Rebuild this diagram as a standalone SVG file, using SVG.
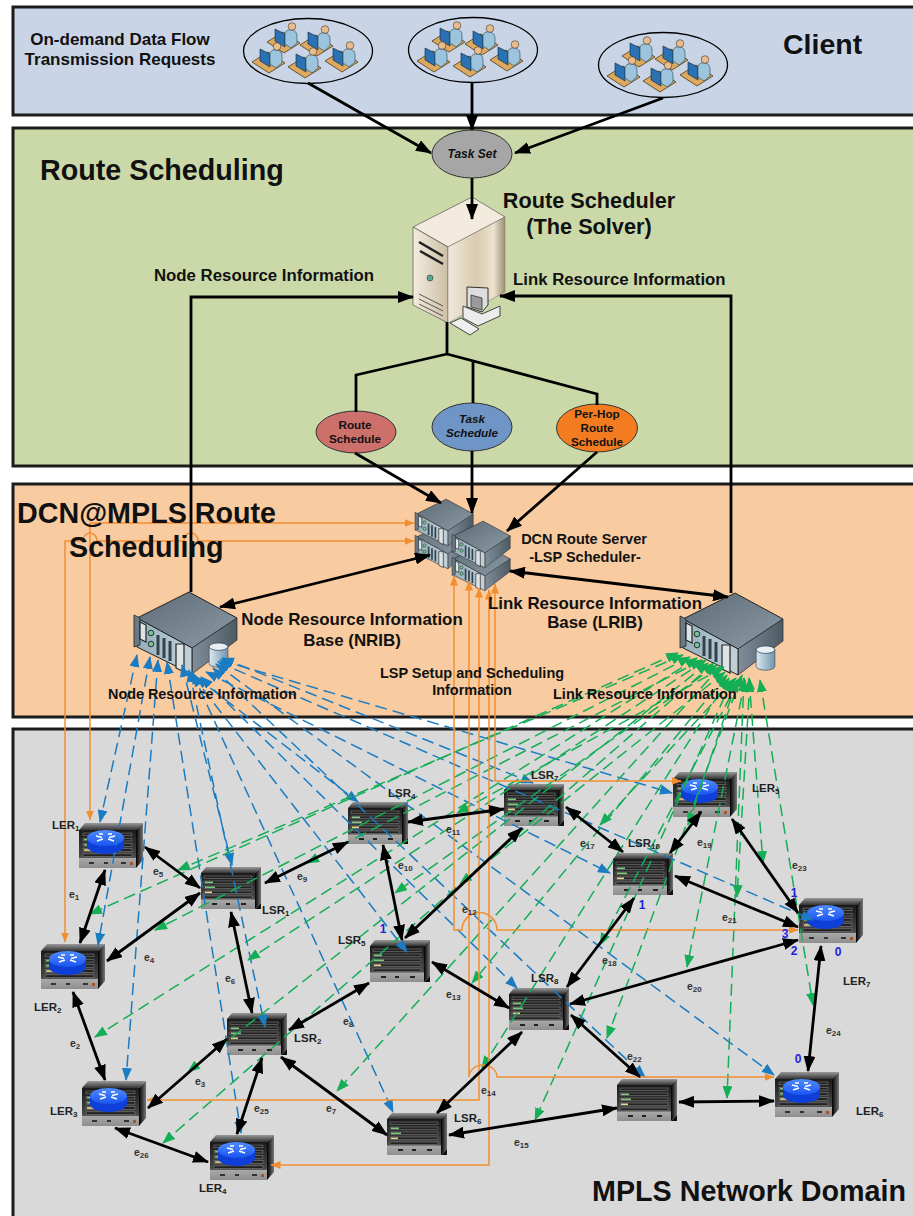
<svg xmlns="http://www.w3.org/2000/svg" width="913" height="1216" viewBox="0 0 913 1216">
<style>
text{font-family:"Liberation Sans",Arial,sans-serif;font-weight:bold;fill:#111}
.panel{stroke:#1c1c1c;stroke-width:3}
.k{fill:none;stroke:#000;stroke-width:2.8;marker-end:url(#ak)}
.kk{fill:none;stroke:#000;stroke-width:2.8;marker-start:url(#ak);marker-end:url(#ak)}
.kn{fill:none;stroke:#000;stroke-width:2.8}
.b{fill:none;stroke:#1b7cc2;stroke-width:1.5;stroke-dasharray:12 6;marker-start:url(#ab);marker-end:url(#ab)}
.g{fill:none;stroke:#14ae57;stroke-width:1.5;stroke-dasharray:12 6;marker-start:url(#ag);marker-end:url(#ag)}
.oo{fill:none;stroke:#f28e32;stroke-width:1.5;marker-start:url(#ao);marker-end:url(#ao)}
.lab{font-size:11.5px;fill:#222}
.e{font-size:10.5px;fill:#333}
.num{font-size:12px;fill:#2222dd}
.sub{font-size:8px}
.ov{stroke:#333;stroke-width:1}
.it{font-style:italic}
</style>
<defs>
<marker id="ak" viewBox="0 0 16 12" refX="15" refY="6" markerWidth="16" markerHeight="12" markerUnits="userSpaceOnUse" orient="auto-start-reverse"><path d="M0,0L16,6L0,12z" fill="#000"/></marker>
<marker id="ab" viewBox="0 0 13 10" refX="12" refY="5" markerWidth="13" markerHeight="10" markerUnits="userSpaceOnUse" orient="auto-start-reverse"><path d="M0,0L13,5L0,10z" fill="#1b7cc2"/></marker>
<marker id="ag" viewBox="0 0 13 10" refX="12" refY="5" markerWidth="13" markerHeight="10" markerUnits="userSpaceOnUse" orient="auto-start-reverse"><path d="M0,0L13,5L0,10z" fill="#14ae57"/></marker>
<marker id="ao" viewBox="0 0 10 8" refX="9.5" refY="4" markerWidth="10" markerHeight="8" markerUnits="userSpaceOnUse" orient="auto-start-reverse"><path d="M0,0L10,4L0,8z" fill="#f28e32"/></marker>
<linearGradient id="gfront" x1="0" y1="0" x2="0" y2="1"><stop offset="0" stop-color="#1a1a1a"/><stop offset=".72" stop-color="#4a4a4a"/><stop offset=".75" stop-color="#a8a8a8"/><stop offset="1" stop-color="#8e8e8e"/></linearGradient>
<linearGradient id="gtop" x1="0" y1="0" x2="0" y2="1"><stop offset="0" stop-color="#9a9a9a"/><stop offset="1" stop-color="#333"/></linearGradient>
<linearGradient id="gside" x1="0" y1="0" x2="1" y2="0"><stop offset="0" stop-color="#000"/><stop offset="1" stop-color="#777"/></linearGradient>
<linearGradient id="grouter" x1="0" y1="0" x2="0" y2="1"><stop offset="0" stop-color="#4f8cff"/><stop offset="1" stop-color="#1a55f0"/></linearGradient>
<linearGradient id="gsrvtop" x1="0" y1="0" x2="1" y2="1"><stop offset="0" stop-color="#5c6b76"/><stop offset="1" stop-color="#8c9ba6"/></linearGradient>
<linearGradient id="gsrvside" x1="0" y1="0" x2="1" y2="0"><stop offset="0" stop-color="#7f8e99"/><stop offset="1" stop-color="#4c5a64"/></linearGradient>
<linearGradient id="gsrvfront" x1="0" y1="0" x2="1" y2="0"><stop offset="0" stop-color="#93aebb"/><stop offset="1" stop-color="#c4d2d9"/></linearGradient>
<linearGradient id="gtower" x1="0" y1="0" x2="1" y2="0"><stop offset="0" stop-color="#f0e8da"/><stop offset=".5" stop-color="#d9cbb0"/><stop offset=".8" stop-color="#ece2cf"/><stop offset="1" stop-color="#9c8f70"/></linearGradient>
<linearGradient id="gtower2" x1="0" y1="0" x2="1" y2="0"><stop offset="0" stop-color="#f3ecdf"/><stop offset="1" stop-color="#cdbfa5"/></linearGradient>
<linearGradient id="gcyl" x1="0" y1="0" x2="1" y2="0"><stop offset="0" stop-color="#dfe9ee"/><stop offset="1" stop-color="#6f95ae"/></linearGradient>
<symbol id="rows" viewBox="0 0 54 24" preserveAspectRatio="none" overflow="visible">
<g fill="#222" stroke="#8a8a8a" stroke-width=".5"><rect x="3" y="1" width="48" height="2.6"/><rect x="3" y="6" width="48" height="2.6"/><rect x="3" y="11" width="48" height="2.6"/><rect x="3" y="16" width="48" height="2.6"/><rect x="3" y="21" width="48" height="2.6"/></g>
<g fill="#7fc77f"><rect x="4" y="6.5" width="8" height="1.6"/><rect x="4" y="11.5" width="10" height="1.6"/></g>
<g fill="#e8d48a"><rect x="4" y="16.5" width="7" height="1.6"/></g>
</symbol>
<symbol id="ler" viewBox="0 0 64 45" overflow="visible">
<path d="M0,7L6,0H64L57,7z" fill="url(#gtop)"/>
<path d="M57,7L64,0V37L57,45z" fill="url(#gside)"/>
<rect y="7" width="57" height="38" fill="url(#gfront)"/>
<use href="#rows" x="1" y="9" width="55" height="25"/>
<g fill="#333"><rect x="10" y="39" width="5" height="2"/><rect x="25" y="39" width="4" height="2"/><rect x="42" y="39" width="5" height="2"/></g>
<rect x="51" y="39" width="3" height="3" fill="#a8532a"/>
<path d="M8,15v8a18.5,8 0 0 0 37,0v-8z" fill="#0e3fd8"/>
<ellipse cx="26.5" cy="15" rx="18.500" ry="8" fill="url(#grouter)"/>
<path d="M17,13l6,1.5M36,13l-6,1.500M18,18l6,-2M35,18l-6,-2M20,11h4M29,11h4" stroke="#fff" stroke-width="1.5" fill="none"/>
</symbol>
<symbol id="lsr" viewBox="0 0 60 42" overflow="visible">
<path d="M0,6L5,0H60L54,6z" fill="url(#gtop)"/>
<path d="M54,6L60,0V36L54,42z" fill="url(#gside)"/>
<path d="M60,36V42H54z" fill="#111"/>
<rect y="6" width="54" height="36" fill="url(#gfront)"/>
<use href="#rows" x="0" y="8" width="54" height="24"/>
<g fill="#222"><rect x="11" y="36" width="5" height="2"/><rect x="25" y="36" width="4" height="2"/><rect x="40" y="36" width="5" height="2"/></g>
</symbol>
<symbol id="srv" viewBox="0 0 106 88" preserveAspectRatio="none" overflow="visible">
<path d="M3,28L55,2L103,28L58,58z" fill="url(#gsrvtop)" stroke="#222" stroke-width="1"/>
<path d="M58,58L103,28V50L58,84z" fill="url(#gsrvside)" stroke="#333" stroke-width=".8"/>
<path d="M3,28L58,58V84L3,57z" fill="url(#gsrvfront)" stroke="#222" stroke-width="1"/>
<path d="M0,25L6,28V55L0,57z" fill="#6a7a84" stroke="#222" stroke-width=".8"/>
<path d="M42,54L50,54V82L42,78z" fill="#dde4e8" stroke="#222" stroke-width="1.2"/>
<path d="M6,32L12,35V52L6,49z" fill="#dde4e8" stroke="#222" stroke-width="1.2"/>
<circle cx="17" cy="43" r="2.8" fill="#7ac18f" stroke="#233"/><circle cx="17" cy="54" r="2.8" fill="#7ac18f" stroke="#233"/>
<path d="M24,45v20M30,48v20M36,51v20" stroke="#34424c" stroke-width="3" fill="none"/>
</symbol>
<symbol id="person" viewBox="0 0 33 31" overflow="visible">
<path d="M0,20L16,10L33,21L17,31z" fill="#dca95f" stroke="#4b3a1a" stroke-width=".8"/>
<path d="M8,7L18,12V25L8,19z" fill="#2a72b4" stroke="#123" stroke-width=".6"/>
<path d="M18,11q2,-4 7,-3q5,1 5,6v7l-6,5l-6,-4z" fill="#9cc4dc" stroke="#245" stroke-width=".6"/>
<circle cx="25" cy="4.500" r="3.800" fill="#e7bd90" stroke="#432" stroke-width=".6"/>
</symbol>
<symbol id="people" viewBox="0 0 130 66" overflow="visible">
<ellipse cx="65" cy="33" rx="64.5" ry="32.5" fill="none" stroke="#000" stroke-width="1.3"/>
<use href="#person" x="24" y="4" width="33" height="31"/><use href="#person" x="57" y="7" width="33" height="31"/><use href="#person" x="9" y="24" width="33" height="31"/><use href="#person" x="45" y="29" width="33" height="31"/><use href="#person" x="82" y="23" width="33" height="31"/>
</symbol>
<symbol id="db" viewBox="0 0 22 30" overflow="visible">
<path d="M1,5V23A10,4 0 0 0 21,23V5z" fill="url(#gcyl)" stroke="#456" stroke-width=".8"/>
<ellipse cx="11" cy="5" rx="10" ry="4" fill="#e8f0f4" stroke="#345" stroke-width=".8"/>
</symbol>
</defs>

<g id="panels">
<rect class="panel" x="13" y="7" width="905" height="108" fill="#c9d5e6"/>
<rect class="panel" x="13" y="128" width="905" height="338" fill="#cbd9a9"/>
<rect class="panel" x="13" y="484" width="905" height="233" fill="#f8cba0"/>
<rect class="panel" x="13" y="729" width="905" height="492" fill="#d9d9d9"/>
</g>

<g id="client-group-1"><use href="#people" x="243" y="18" width="130" height="66"/></g>
<g id="client-group-2"><use href="#people" x="408" y="17" width="130" height="66"/></g>
<g id="client-group-3"><use href="#people" x="598" y="32" width="130" height="66"/></g>

<g id="task-set"><ellipse class="ov" cx="472" cy="154" rx="40" ry="24" fill="#a6a6a6"/></g>

<g id="route-scheduler">
<path d="M472,197L505,217L448,247L413,227z" fill="#f2ebdd" stroke="#555" stroke-width=".7"/>
<path d="M413,227L448,247V323L413,305z" fill="url(#gtower2)" stroke="#555" stroke-width=".7"/>
<path d="M448,247L505,217V292L448,323z" fill="url(#gtower)" stroke="#777" stroke-width=".5"/>
<path d="M419,242L443,256M420,251L443,264" stroke="#222" stroke-width="2.5" fill="none"/>
<circle cx="430" cy="278" r="3" fill="#5aa98e" stroke="#333" stroke-width=".6"/>
<path d="M419,294L443,306M419,299L443,311M419,304L443,316" stroke="#555" stroke-width="1" fill="none"/>
<path d="M467,287L488,288V305L482,312L467,307z" fill="#ddd" stroke="#333"/>
<path d="M471,295L482,298V310L471,307z" fill="#9a9a9a" stroke="#222" stroke-width=".7"/>
<path d="M463,306L482,314L500,306V316L478,326L463,318z" fill="#ececec" stroke="#444"/>
<path d="M450,323L461,318L479,329L470,335z" fill="#eee" stroke="#444"/>
</g>

<g id="route-schedule"><ellipse class="ov" cx="356" cy="432" rx="40" ry="21" fill="#cd6f6a"/></g>
<g id="task-schedule"><ellipse class="ov" cx="472" cy="427" rx="40" ry="24" fill="#6f94c6"/></g>
<g id="per-hop-route-schedule"><ellipse class="ov" cx="597" cy="428" rx="40.5" ry="24" fill="#f47c20"/></g>

<g id="dcn-route-server">
<use href="#srv" x="415" y="521" width="60" height="50"/>
<use href="#srv" x="415" y="498" width="60" height="50"/>
<use href="#srv" x="452" y="543" width="60" height="50"/>
<use href="#srv" x="452" y="520" width="60" height="50"/>
</g>
<g id="nrib"><use href="#srv" x="134" y="590" width="106" height="88"/><use href="#db" x="208" y="642" width="21" height="28"/></g>
<g id="lrib"><use href="#srv" x="680" y="591" width="106" height="88"/><use href="#db" x="755" y="645" width="21" height="28"/></g>

<g id="LER1"><use href="#ler" x="79" y="823" width="64" height="45"/></g>
<g id="LER2"><use href="#ler" x="41" y="944" width="64" height="45"/></g>
<g id="LER3"><use href="#ler" x="82" y="1081" width="64" height="45"/></g>
<g id="LER4"><use href="#ler" x="210" y="1135" width="64" height="45"/></g>
<g id="LER5"><use href="#ler" x="673" y="772" width="64" height="45"/></g>
<g id="LER6"><use href="#ler" x="775" y="1072" width="64" height="45"/></g>
<g id="LER7"><use href="#ler" x="799" y="898" width="64" height="45"/></g>
<g id="LSR1"><use href="#lsr" x="201" y="867" width="60" height="42"/></g>
<g id="LSR2"><use href="#lsr" x="227" y="1013" width="60" height="42"/></g>
<g id="LSR4"><use href="#lsr" x="348" y="802" width="60" height="42"/></g>
<g id="LSR5"><use href="#lsr" x="370" y="940" width="60" height="42"/></g>
<g id="LSR6"><use href="#lsr" x="387" y="1113" width="60" height="42"/></g>
<g id="LSR7"><use href="#lsr" x="504" y="784" width="60" height="42"/></g>
<g id="LSR8"><use href="#lsr" x="509" y="988" width="60" height="42"/></g>
<g id="LSR9"><use href="#lsr" x="617" y="1079" width="60" height="42"/></g>
<g id="LSR10"><use href="#lsr" x="613" y="853" width="60" height="42"/></g>

<g id="connectors">
<g id="blue-links">
<path class="b" d="M137,655L100,822"/><path class="b" d="M150,657L98,945"/><path class="b" d="M158,660L126,1080"/><path class="b" d="M167,662L241,1133"/><path class="b" d="M182,665L232,865"/><path class="b" d="M189,670L265,1027"/><path class="b" d="M192,672L393,1112"/><path class="b" d="M192,675L407,952"/><path class="b" d="M196,677L358,802"/><path class="b" d="M201,677L517,988"/><path class="b" d="M206,672L610,873"/><path class="b" d="M213,668L645,1077"/><path class="b" d="M216,664L774,1075"/><path class="b" d="M218,662L813,920"/><path class="b" d="M220,660L672,793"/><path class="b" d="M222,658L533,783"/>
</g>
<g id="green-links">
<path class="g" d="M678,653L90,914"/><path class="g" d="M683,655L178,870"/><path class="g" d="M690,657L155,930"/><path class="g" d="M697,658L95,1037"/><path class="g" d="M702,660L307,863"/><path class="g" d="M706,660L248,960"/><path class="g" d="M708,663L188,1072"/><path class="g" d="M714,663L163,1143"/><path class="g" d="M717,665L395,893"/><path class="g" d="M721,666L337,1091"/><path class="g" d="M724,667L457,813"/><path class="g" d="M725,672L460,884"/><path class="g" d="M727,675L472,983"/><path class="g" d="M729,678L482,1068"/><path class="g" d="M732,680L535,1120"/><path class="g" d="M736,678L600,825"/><path class="g" d="M739,680L600,945"/><path class="g" d="M742,675L607,1038"/><path class="g" d="M737,680L688,825"/><path class="g" d="M745,680L687,967"/><path class="g" d="M744,678L727,1098"/><path class="g" d="M750,680L737,897"/><path class="g" d="M749,678L763,863"/><path class="g" d="M760,680L813,1005"/>
</g>
<g id="orange-links">
<path class="oo" d="M90,820V523H414"/>
<path class="oo" d="M65,942V541H83A7,8 0 0 1 97,541H184A7,8 0 0 1 198,541H414"/>
<path class="oo" d="M798,930H497A17.5,17.5 0 0 0 462,930H454V576"/>
<path class="oo" d="M469,581V1077A14,12 0 0 1 497,1077H774"/>
<path class="oo" d="M479,588V1100H147"/>
<path class="oo" d="M489,590V1165H271"/>
<path class="oo" d="M495,584V781H681"/>
</g>
<g id="black-links">
<path class="k" d="M308,83L431,153"/><path class="k" d="M472,83V130"/><path class="k" d="M663,98L515,153"/><path class="k" d="M472,178V219"/>
<path class="k" d="M191,592V297H413"/><path class="k" d="M731,593V296H500"/>
<path class="kn" d="M447,322V354L356,375V412"/><path class="kn" d="M447,354L597,394V405"/><path class="kn" d="M473,362V403"/>
<path class="k" d="M355,453L441,503"/><path class="k" d="M472,451V513"/><path class="k" d="M597,452L507,531"/>
<path class="kk" d="M220,607L430,555"/><path class="kk" d="M510,571L728,597"/>
<path class="kk" d="M105,870L80,943"/><path class="kk" d="M145,847L200,888"/><path class="kk" d="M107,961L200,893"/><path class="kk" d="M73,992L105,1080"/><path class="kk" d="M148,1108L227,1039"/><path class="kk" d="M115,1128L208,1162"/><path class="kk" d="M237,1134L262,1058"/><path class="kk" d="M231,912L252,1013"/><path class="kk" d="M265,883L348,842"/><path class="kk" d="M383,845L402,940"/><path class="kk" d="M289,1030L369,983"/><path class="kk" d="M281,1057L387,1135"/><path class="kk" d="M408,822L504,809"/><path class="kk" d="M405,938L522,828"/><path class="kk" d="M432,962L509,1008"/><path class="kk" d="M437,1113L522,1032"/><path class="kk" d="M449,1135L617,1108"/><path class="kk" d="M566,807L623,852"/><path class="kk" d="M634,898L567,987"/><path class="kk" d="M670,853L701,812"/><path class="kk" d="M675,876L798,927"/><path class="kk" d="M570,1004L798,940"/><path class="kk" d="M571,1015L640,1077"/><path class="kk" d="M679,1102L774,1101"/><path class="kk" d="M732,819L798,913"/><path class="kk" d="M821,946L808,1071"/>
</g>
</g>

<g id="labels">
<text x="120" y="45" font-size="17" text-anchor="middle">On-demand Data Flow</text>
<text x="120" y="65" font-size="17" text-anchor="middle">Transmission Requests</text>
<text x="783" y="54" font-size="28.500">Client</text>
<text x="472" y="158" font-size="12" text-anchor="middle" class="it">Task Set</text>
<text x="40" y="180" font-size="28.700">Route Scheduling</text>
<text x="589" y="208" font-size="21.700" text-anchor="middle">Route Scheduler</text>
<text x="589" y="234" font-size="21.700" text-anchor="middle">(The Solver)</text>
<text x="154" y="281" font-size="16.800">Node Resource Information</text>
<text x="513" y="285" font-size="16.800">Link Resource Information</text>
<text x="355" y="429" font-size="11.700" text-anchor="middle">Route</text>
<text x="355" y="443" font-size="11.700" text-anchor="middle">Schedule</text>
<text x="472" y="423" font-size="11.700" text-anchor="middle" class="it">Task</text>
<text x="472" y="437" font-size="11.700" text-anchor="middle" class="it">Schedule</text>
<text x="597" y="418" font-size="11.700" text-anchor="middle">Per-Hop</text>
<text x="597" y="432" font-size="11.700" text-anchor="middle">Route</text>
<text x="597" y="446" font-size="11.700" text-anchor="middle">Schedule</text>
<text x="17" y="523" font-size="28.700">DCN@MPLS Route</text>
<text x="69" y="557" font-size="28.700">Scheduling</text>
<text x="584" y="544" font-size="14.500" text-anchor="middle">DCN Route Server</text>
<text x="585" y="562" font-size="14.500" text-anchor="middle">-LSP Scheduler-</text>
<text x="352" y="625" font-size="16.900" text-anchor="middle">Node Resource Information</text>
<text x="352" y="646" font-size="16.900" text-anchor="middle">Base (NRIB)</text>
<text x="595" y="609" font-size="16.900" text-anchor="middle">Link Resource Information</text>
<text x="595" y="628" font-size="16.900" text-anchor="middle">Base (LRIB)</text>
<text x="472" y="678" font-size="14.500" text-anchor="middle">LSP Setup and Scheduling</text>
<text x="472" y="695" font-size="14.500" text-anchor="middle">Information</text>
<text x="108" y="699" font-size="14.400">Node Resource Information</text>
<text x="553" y="699" font-size="14.500">Link Resource Information</text>
<text x="592" y="1201" font-size="28.700">MPLS Network Domain</text>

<text class="lab" x="52" y="829">LER<tspan class="sub" dy="2">1</tspan></text>
<text class="lab" x="34" y="1011">LER<tspan class="sub" dy="2">2</tspan></text>
<text class="lab" x="50" y="1115">LER<tspan class="sub" dy="2">3</tspan></text>
<text class="lab" x="199" y="1192">LER<tspan class="sub" dy="2">4</tspan></text>
<text class="lab" x="752" y="792">LER<tspan class="sub" dy="2">5</tspan></text>
<text class="lab" x="856" y="1115">LER<tspan class="sub" dy="2">6</tspan></text>
<text class="lab" x="843" y="985">LER<tspan class="sub" dy="2">7</tspan></text>
<text class="lab" x="262" y="914">LSR<tspan class="sub" dy="2">1</tspan></text>
<text class="lab" x="294" y="1042">LSR<tspan class="sub" dy="2">2</tspan></text>
<text class="lab" x="388" y="797">LSR<tspan class="sub" dy="2">4</tspan></text>
<text class="lab" x="338" y="944">LSR<tspan class="sub" dy="2">5</tspan></text>
<text class="lab" x="454" y="1122">LSR<tspan class="sub" dy="2">6</tspan></text>
<text class="lab" x="531" y="779">LSR<tspan class="sub" dy="2">7</tspan></text>
<text class="lab" x="531" y="982">LSR<tspan class="sub" dy="2">8</tspan></text>
<text class="lab" x="628" y="847">LSR<tspan class="sub" dy="2">10</tspan></text>

<text class="e" x="69" y="898">e<tspan class="sub" dy="2">1</tspan></text>
<text class="e" x="70" y="1047">e<tspan class="sub" dy="2">2</tspan></text>
<text class="e" x="195" y="1085">e<tspan class="sub" dy="2">3</tspan></text>
<text class="e" x="144" y="961">e<tspan class="sub" dy="2">4</tspan></text>
<text class="e" x="153" y="875">e<tspan class="sub" dy="2">5</tspan></text>
<text class="e" x="225" y="982">e<tspan class="sub" dy="2">6</tspan></text>
<text class="e" x="326" y="1112">e<tspan class="sub" dy="2">7</tspan></text>
<text class="e" x="343" y="1025">e<tspan class="sub" dy="2">8</tspan></text>
<text class="e" x="297" y="880">e<tspan class="sub" dy="2">9</tspan></text>
<text class="e" x="398" y="869">e<tspan class="sub" dy="2">10</tspan></text>
<text class="e" x="446" y="833">e<tspan class="sub" dy="2">11</tspan></text>
<text class="e" x="462" y="913">e<tspan class="sub" dy="2">12</tspan></text>
<text class="e" x="446" y="998">e<tspan class="sub" dy="2">13</tspan></text>
<text class="e" x="481" y="1094">e<tspan class="sub" dy="2">14</tspan></text>
<text class="e" x="514" y="1146">e<tspan class="sub" dy="2">15</tspan></text>
<text class="e" x="580" y="847">e<tspan class="sub" dy="2">17</tspan></text>
<text class="e" x="602" y="964">e<tspan class="sub" dy="2">18</tspan></text>
<text class="e" x="697" y="846">e<tspan class="sub" dy="2">19</tspan></text>
<text class="e" x="687" y="990">e<tspan class="sub" dy="2">20</tspan></text>
<text class="e" x="722" y="921">e<tspan class="sub" dy="2">21</tspan></text>
<text class="e" x="627" y="1060">e<tspan class="sub" dy="2">22</tspan></text>
<text class="e" x="792" y="869">e<tspan class="sub" dy="2">23</tspan></text>
<text class="e" x="826" y="1034">e<tspan class="sub" dy="2">24</tspan></text>
<text class="e" x="254" y="1112">e<tspan class="sub" dy="2">25</tspan></text>
<text class="e" x="134" y="1156">e<tspan class="sub" dy="2">26</tspan></text>

<text class="num" x="642" y="909" text-anchor="middle">1</text>
<text class="num" x="383" y="933" text-anchor="middle">1</text>
<text class="num" x="794" y="897" text-anchor="middle">1</text>
<text class="num" x="785" y="938" text-anchor="middle">3</text>
<text class="num" x="794" y="955" text-anchor="middle">2</text>
<text class="num" x="838" y="956" text-anchor="middle">0</text>
<text class="num" x="798" y="1063" text-anchor="middle">0</text>
</g>
</svg>
